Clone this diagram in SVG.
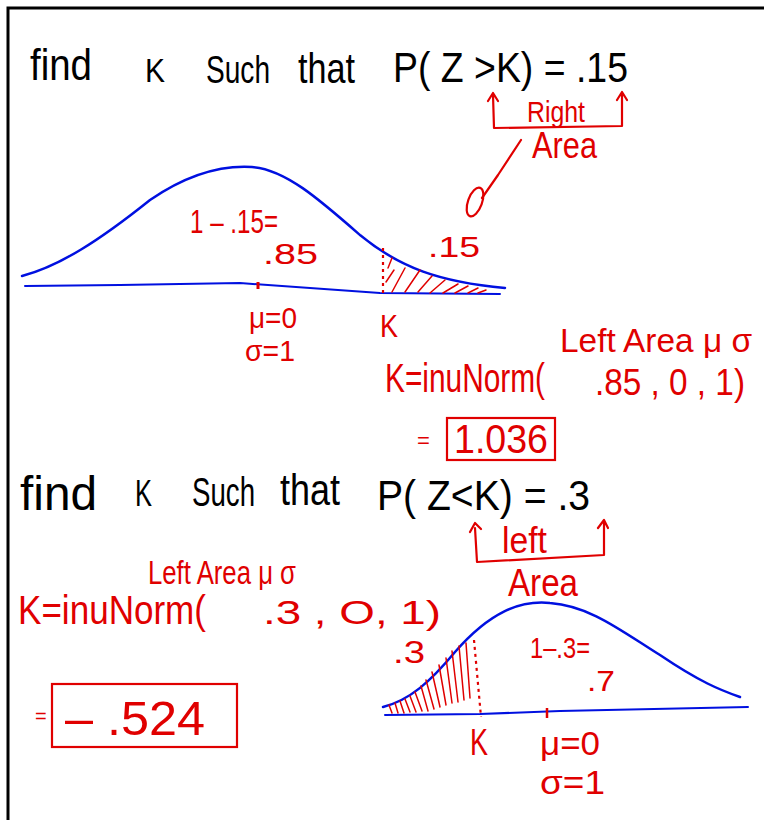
<svg xmlns="http://www.w3.org/2000/svg" width="764" height="820" viewBox="0 0 764 820">
<style>
.bk{font-family:"Liberation Sans",Arial,sans-serif;fill:#000;font-weight:300}
.rd{font-family:"Liberation Sans",Arial,sans-serif;fill:#e00000}
.curve{fill:none;stroke:#0010e0;stroke-width:2.5;stroke-linecap:round;stroke-linejoin:round}
.axis{fill:none;stroke:#0010e0;stroke-width:2;stroke-linecap:round}
.rl{fill:none;stroke:#e00000;stroke-width:2.2;stroke-linecap:round;stroke-linejoin:round}
.dot{fill:none;stroke:#e00000;stroke-width:2.2;stroke-dasharray:3 4}
.hatch{stroke:#e00000;stroke-width:1.5;stroke-linecap:round}
</style>
<rect width="764" height="820" fill="#fff"/>
<path d="M8,820 L8,8 L764,8" fill="none" stroke="#000" stroke-width="3"/>

<!-- Problem 1 -->
<text class="bk" x="30" y="80" font-size="44" textLength="62" lengthAdjust="spacingAndGlyphs">find</text>
<text class="bk" x="145" y="82" font-size="34" textLength="20" lengthAdjust="spacingAndGlyphs">K</text>
<text class="bk" x="206" y="83" font-size="38" textLength="64" lengthAdjust="spacingAndGlyphs">Such</text>
<text class="bk" x="298" y="83" font-size="42" textLength="57" lengthAdjust="spacingAndGlyphs">that</text>
<text class="bk" x="393" y="82" font-size="42" textLength="235" lengthAdjust="spacingAndGlyphs">P( Z &gt;K) = .15</text>

<path class="rl" d="M493,95 L494,128 L622,126 L622,92 M488,101 L493,93 L498,101 M617,100 L622,92 L627,100"/>
<text class="rd" x="527" y="122" font-size="30" textLength="58" lengthAdjust="spacingAndGlyphs">Right</text>
<text class="rd" x="532" y="158" font-size="36" textLength="65" lengthAdjust="spacingAndGlyphs">Area</text>
<path class="rl" d="M521,140 L498,175 L482,198" stroke-width="1.5"/>
<ellipse cx="475" cy="202" rx="7" ry="15" transform="rotate(20 475 202)" fill="none" stroke="#e00000" stroke-width="2.2"/>

<path class="curve" d="M22,276 C60,266 100,240 150,200 C185,176 220,165 252,167 C285,169 320,200 360,235 C400,268 440,282 505,288"/>
<path class="axis" d="M25,286 L120,285 L240,283 L380,293 L500,294"/>
<line x1="258" y1="282" x2="258" y2="289" stroke="#e00000" stroke-width="3"/>
<line class="dot" x1="383" y1="248" x2="383" y2="297"/>
<g class="hatch">
<path d="M388,268 L392,258 M386,282 L394,270 M392,292 L405,268 M405,292 L420,270 M418,292 L432,276 M430,293 L445,280 M443,293 L458,284 M455,293 L468,286 M468,293 L478,288 M478,293 L486,290"/>
</g>
<text class="rd" x="190" y="233" font-size="34" textLength="88" lengthAdjust="spacingAndGlyphs">1 – .15=</text>
<text class="rd" x="263" y="264" font-size="30" textLength="55" lengthAdjust="spacingAndGlyphs">.85</text>
<text class="rd" x="428" y="257" font-size="30" textLength="52" lengthAdjust="spacingAndGlyphs">.15</text>
<text class="rd" x="249" y="328" font-size="30" textLength="48" lengthAdjust="spacingAndGlyphs">μ=0</text>
<text class="rd" x="245" y="361" font-size="30" textLength="50" lengthAdjust="spacingAndGlyphs">σ=1</text>
<text class="rd" x="380" y="337" font-size="32" textLength="18" lengthAdjust="spacingAndGlyphs">K</text>

<text class="rd" x="560" y="352" font-size="34" textLength="192" lengthAdjust="spacingAndGlyphs">Left Area μ σ</text>
<text class="rd" x="385" y="392" font-size="40" textLength="160" lengthAdjust="spacingAndGlyphs">K=inuNorm(</text>
<text class="rd" x="595" y="395" font-size="36" textLength="150" lengthAdjust="spacingAndGlyphs">.85 , 0 , 1)</text>
<text class="rd" x="417" y="448" font-size="22">=</text>
<rect x="447" y="418" width="108" height="42" fill="none" stroke="#e00000" stroke-width="2.2"/>
<text class="rd" x="454" y="453" font-size="40" textLength="94" lengthAdjust="spacingAndGlyphs">1.036</text>

<!-- Problem 2 -->
<text class="bk" x="20" y="510" font-size="48" textLength="77" lengthAdjust="spacingAndGlyphs">find</text>
<text class="bk" x="135" y="506" font-size="36" textLength="17" lengthAdjust="spacingAndGlyphs">K</text>
<text class="bk" x="192" y="506" font-size="40" textLength="63" lengthAdjust="spacingAndGlyphs">Such</text>
<text class="bk" x="280" y="505" font-size="44" textLength="60" lengthAdjust="spacingAndGlyphs">that</text>
<text class="bk" x="377" y="510" font-size="42" textLength="213" lengthAdjust="spacingAndGlyphs">P( Z&lt;K) = .3</text>

<path class="rl" d="M475,528 L477,562 L604,555 L604,522 M470,532 L475,523 L481,529 M598,528 L604,520 L608,528"/>
<text class="rd" x="502" y="553" font-size="36" textLength="45" lengthAdjust="spacingAndGlyphs">left</text>
<text class="rd" x="508" y="596" font-size="38" textLength="70" lengthAdjust="spacingAndGlyphs">Area</text>

<text class="rd" x="148" y="584" font-size="34" textLength="148" lengthAdjust="spacingAndGlyphs">Left Area μ σ</text>
<text class="rd" x="18" y="624" font-size="40" textLength="188" lengthAdjust="spacingAndGlyphs">K=inuNorm(</text>
<text class="rd" x="263" y="624" font-size="34" textLength="178" lengthAdjust="spacingAndGlyphs">.3  ,  O,  1)</text>
<text class="rd" x="393" y="663" font-size="32" textLength="32" lengthAdjust="spacingAndGlyphs">.3</text>
<text class="rd" x="530" y="658" font-size="30" textLength="60" lengthAdjust="spacingAndGlyphs">1–.3=</text>
<text class="rd" x="587" y="691" font-size="30" textLength="28" lengthAdjust="spacingAndGlyphs">.7</text>
<text class="rd" x="35" y="723" font-size="20">=</text>
<rect x="52" y="684" width="185" height="63" fill="none" stroke="#e00000" stroke-width="2.2"/>
<text class="rd" x="65" y="735" font-size="48" textLength="140" lengthAdjust="spacingAndGlyphs">– .524</text>

<path class="curve" d="M383,707 C410,700 430,682 455,652 C490,612 520,600 550,603 C590,606 620,630 660,655 C700,682 720,690 740,697" stroke-width="2"/>
<path class="axis" d="M385,715 L480,714 L560,711 L748,707"/>
<line x1="547" y1="708" x2="547" y2="718" stroke="#e00000" stroke-width="2.5"/>
<line class="dot" x1="474" y1="640" x2="481" y2="717"/>
<g class="hatch" stroke-width="2.5">
<path d="M392,713 L389,705 M398,713 L395,703 M404,713 L400,701 M410,712 L405,699 M416,712 L410,696 M422,711 L415,692 M428,711 L421,686 M434,709 L426,680 M440,707 L432,672 M446,705 L439,665 M452,703 L446,658 M458,702 L452,651 M464,700 L459,646 M470,698 L466,643"/>
</g>
<text class="rd" x="470" y="755" font-size="36" textLength="18" lengthAdjust="spacingAndGlyphs">K</text>
<text class="rd" x="540" y="755" font-size="34" textLength="60" lengthAdjust="spacingAndGlyphs">μ=0</text>
<text class="rd" x="540" y="794" font-size="34" textLength="65" lengthAdjust="spacingAndGlyphs">σ=1</text>
</svg>
